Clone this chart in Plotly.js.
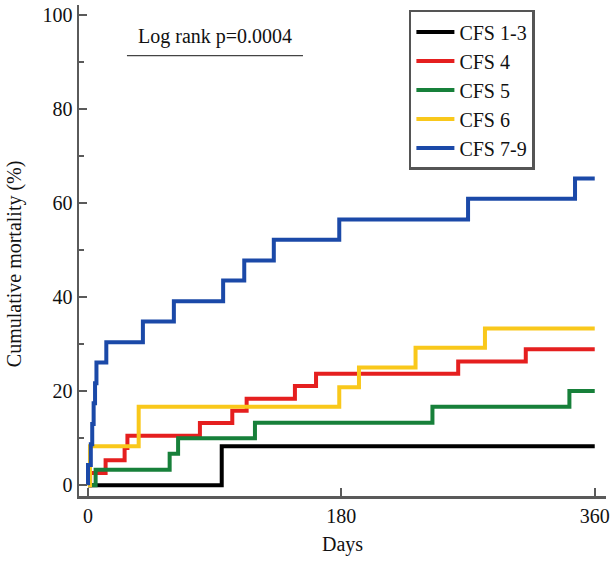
<!DOCTYPE html>
<html>
<head>
<meta charset="utf-8">
<script src="https://cdn.plot.ly/plotly-3.0.1.min.js"></script>
<style>html,body{margin:0;padding:0;background:#fff;}#chart{width:614px;height:563px;}</style>
</head>
<body>
<div id="chart"></div>
<script>
// Kaplan-Meier cumulative mortality (%) step data
const seriesNames = ["CFS 1-3", "CFS 4", "CFS 5", "CFS 6", "CFS 7-9"];
const cfs13Days = [0, 95, 360];
const cfs13Mort = [0, 8.3, 8.3];
const cfs4Days = [0, 1.5, 12.5, 26, 28, 79.5, 102.5, 112.7, 147, 162, 263, 311, 360];
const cfs4Mort = [0, 2.6, 5.3, 7.9, 10.5, 13.2, 15.8, 18.4, 21.1, 23.7, 26.3, 28.9, 28.9];
const cfs5Days = [0, 5.4, 58, 64, 118.6, 244.7, 342, 360];
const cfs5Mort = [0, 3.3, 6.7, 10.0, 13.3, 16.7, 20.0, 20.0];
const cfs6Days = [0, 1.4, 36, 178.5, 192.5, 232.7, 282, 360];
const cfs6Mort = [0, 8.3, 16.7, 20.8, 25.0, 29.2, 33.3, 33.3];
const cfs79Days = [0, 0, 2, 3, 4, 5, 6, 13, 39, 61, 96, 111, 132, 178.5, 270, 346, 360];
const cfs79Mort = [0, 4.3, 8.7, 13.0, 17.4, 21.7, 26.1, 30.4, 34.8, 39.1, 43.5, 47.8, 52.2, 56.5, 60.9, 65.2, 65.2];
const xTicks = [0, 180, 360];
const yTicks = [0, 20, 40, 60, 80, 100];
const annotationText = "Log rank p=0.0004";
const xTitle = "Days";
const yTitle = "Cumulative mortality (%)";

const colors = ["#000000", "#e51f1f", "#17803a", "#f9c81b", "#1b49a8"];
const xs = [cfs13Days, cfs4Days, cfs5Days, cfs6Days, cfs79Days];
const ys = [cfs13Mort, cfs4Mort, cfs5Mort, cfs6Mort, cfs79Mort];

const traces = seriesNames.map((n, i) => ({
  type: "scatter", mode: "lines", name: n,
  x: xs[i], y: ys[i],
  line: {shape: "hv", color: colors[i], width: 4}
}));

const fontFam = "Liberation Serif, Times New Roman, serif";
const layout = {
  width: 614, height: 563,
  margin: {l: 79, r: 8, t: 5, b: 67},
  paper_bgcolor: "#fff", plot_bgcolor: "#fff",
  font: {family: fontFam, size: 19, color: "#111"},
  showlegend: true,
  legend: {
    x: 0.626, y: 0.99, xanchor: "left", yanchor: "top",
    bordercolor: "#555", borderwidth: 2.5, bgcolor: "#fff",
    font: {family: fontFam, size: 20, color: "#111"},
    itemwidth: 38,
    traceorder: "normal"
  },
  xaxis: {
    range: [-6.4, 368], tickvals: xTicks, ticktext: xTicks.map(String),
    showline: true, linecolor: "#5a5a5a", linewidth: 2.5,
    ticks: "inside", ticklen: 8, tickwidth: 2, tickcolor: "#5a5a5a",
    showgrid: false, zeroline: false,
    tickfont: {family: fontFam, size: 20, color: "#111"},
    title: {text: xTitle, font: {family: fontFam, size: 20}, standoff: 12}
  },
  yaxis: {
    range: [-2.3, 102.1], tickvals: yTicks, ticktext: yTicks.map(String),
    showline: true, linecolor: "#5a5a5a", linewidth: 2.5,
    ticks: "inside", ticklen: 8, tickwidth: 2, tickcolor: "#5a5a5a",
    minor: {dtick: 10, tick0: 0, ticks: "inside", ticklen: 5, tickwidth: 1.5, tickcolor: "#5a5a5a"},
    showgrid: false, zeroline: false,
    tickfont: {family: fontFam, size: 20, color: "#111"}
  },
  annotations: [{
    xref: "paper", yref: "paper", x: 0.258, y: 0.935, xanchor: "center", yanchor: "middle",
    text: annotationText, showarrow: false,
    font: {family: fontFam, size: 20, color: "#111"}
  }, {
    xref: "paper", yref: "paper", x: -0.123, y: 0.4725, xanchor: "center", yanchor: "middle",
    text: yTitle, showarrow: false, textangle: -90,
    font: {family: fontFam, size: 20, color: "#111"}
  }],
  shapes: [{
    type: "line", xref: "paper", yref: "paper",
    x0: 0.091, x1: 0.425, y0: 0.897, y1: 0.897,
    line: {color: "#444", width: 1.2}
  }]
};

Plotly.newPlot("chart", traces, layout, {displayModeBar: false, staticPlot: true});
</script>
</body>
</html>
